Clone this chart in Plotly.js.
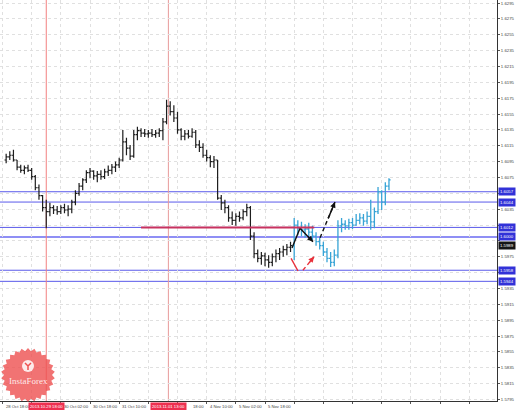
<!DOCTYPE html>
<html>
<head>
<meta charset="utf-8">
<script src="https://cdn.plot.ly/plotly-3.0.1.min.js"></script>
<style>html,body{margin:0;padding:0;background:#fff;}#chart{width:519px;height:410px;}</style>
</head>
<body>
<div id="chart"></div>
<script>
// ---- Data (H2 bars, x = hours since 28 Oct 18:00) ----
const blackOpen = [1.6097,1.6101,1.6103,1.6097,1.6088,1.6084,1.6087,1.6084,1.6076,1.6062,
1.6052,1.6037,1.6032,1.6037,1.6034,1.6032,1.6037,1.6034,1.6035,1.6044,
1.6055,1.6064,1.6072,1.6081,1.6083,1.6077,1.6079,1.6076,1.6082,1.6084,
1.6088,1.6091,1.6097,1.6120,1.6112,1.6102,1.6129,1.6134,1.6131,1.6130,
1.6131,1.6129,1.6131,1.6134,1.6145,1.6165,1.6158,1.6150,1.6135,1.6127,
1.6130,1.6127,1.6132,1.6116,1.6113,1.6103,1.6100,1.6095,1.6097,1.6049,
1.6043,1.6037,1.6024,1.6021,1.6026,1.6024,1.6032,1.6037,1.6001,1.5979,
1.5973,1.5976,1.5971,1.5968,1.5975,1.5979,1.5981,1.5984,1.5987];
const blackHigh = [1.6105,1.6108,1.6110,1.6097,1.6091,1.6090,1.6091,1.6087,1.6078,1.6066,
1.6053,1.6047,1.6043,1.6040,1.6039,1.6040,1.6042,1.6040,1.6047,1.6059,
1.6068,1.6074,1.6084,1.6087,1.6084,1.6083,1.6084,1.6086,1.6090,1.6092,
1.6095,1.6100,1.6135,1.6125,1.6116,1.6135,1.6139,1.6137,1.6136,1.6135,
1.6136,1.6135,1.6137,1.6150,1.6173,1.6171,1.6166,1.6158,1.6137,1.6135,
1.6135,1.6137,1.6135,1.6122,1.6118,1.6110,1.6103,1.6102,1.6097,1.6053,
1.6047,1.6040,1.6032,1.6030,1.6032,1.6035,1.6042,1.6039,1.6006,1.5984,
1.5981,1.5980,1.5977,1.5979,1.5984,1.5986,1.5989,1.5991,1.5994];
const blackLow = [1.6093,1.6097,1.6095,1.6084,1.6081,1.6079,1.6082,1.6072,1.6059,1.6047,
1.6032,1.6011,1.6026,1.6029,1.6028,1.6029,1.6030,1.6026,1.6030,1.6040,
1.6052,1.6059,1.6068,1.6074,1.6072,1.6069,1.6072,1.6073,1.6077,1.6079,
1.6082,1.6087,1.6095,1.6103,1.6097,1.6100,1.6122,1.6126,1.6126,1.6125,
1.6126,1.6125,1.6126,1.6122,1.6142,1.6153,1.6145,1.6130,1.6122,1.6122,
1.6124,1.6125,1.6112,1.6107,1.6100,1.6095,1.6088,1.6087,1.6047,1.6034,
1.6030,1.6019,1.6015,1.6014,1.6019,1.6021,1.6026,1.5996,1.5973,1.5968,
1.5965,1.5963,1.5961,1.5963,1.5968,1.5971,1.5975,1.5977,1.5981];
const blackClose = [1.6101,1.6103,1.6097,1.6088,1.6084,1.6087,1.6084,1.6076,1.6062,1.6052,
1.6037,1.6032,1.6037,1.6034,1.6032,1.6037,1.6034,1.6035,1.6044,1.6055,
1.6064,1.6072,1.6081,1.6083,1.6077,1.6079,1.6076,1.6082,1.6084,1.6088,
1.6091,1.6097,1.6120,1.6112,1.6102,1.6129,1.6134,1.6131,1.6130,1.6131,
1.6129,1.6131,1.6134,1.6145,1.6165,1.6158,1.6150,1.6135,1.6127,1.6130,
1.6127,1.6132,1.6116,1.6113,1.6103,1.6100,1.6095,1.6097,1.6049,1.6043,
1.6037,1.6024,1.6021,1.6026,1.6024,1.6032,1.6037,1.6001,1.5979,1.5973,
1.5976,1.5971,1.5968,1.5975,1.5979,1.5981,1.5984,1.5987,1.5989];

const fcOpen = [1.5989,1.6015,1.6011,1.6009,1.6010,1.6006,1.6001,1.5994,1.5989,1.5981,
1.5973,1.5968,1.5977,1.6014,1.6016,1.6014,1.6018,1.6015,1.6021,1.6024,
1.6020,1.6026,1.6019,1.6032,1.6057,1.6044,1.6064];
const fcHigh = [1.6024,1.6021,1.6019,1.6016,1.6018,1.6014,1.6006,1.5999,1.5994,1.5986,
1.5981,1.5984,1.6021,1.6024,1.6021,1.6023,1.6024,1.6029,1.6030,1.6029,
1.6032,1.6047,1.6037,1.6063,1.6059,1.6069,1.6074];
const fcLow = [1.5971,1.6002,1.6001,1.5999,1.6001,1.5996,1.5989,1.5984,1.5976,1.5968,
1.5962,1.5963,1.5973,1.6006,1.6009,1.6009,1.6010,1.6014,1.6016,1.6014,
1.6016,1.6009,1.6011,1.6029,1.6034,1.6040,1.6059];
const fcClose = [1.6015,1.6011,1.6009,1.6010,1.6006,1.6001,1.5994,1.5989,1.5981,1.5973,
1.5968,1.5977,1.6014,1.6016,1.6014,1.6018,1.6015,1.6021,1.6024,1.6020,
1.6026,1.6019,1.6032,1.6057,1.6044,1.6064,1.6072];

const barStepHours = 2;
const blackHours = blackOpen.map((_, i) => barStepHours * (i + 1));
const fcHours = fcOpen.map((_, i) => barStepHours * (blackOpen.length + 1 + i));

const levelPrices = [1.6057, 1.6044, 1.6012, 1.6000, 1.5958, 1.5944];
const trendHours = [76, 171];
const trendPrice = 1.6012;
const vlineHours = [24, 91];
const vlineLabels = ['2013.10.29 18:00', '2013.11.01 13:00'];

// labels as visible in the picture (parts hidden by the red line boxes are omitted)
const xLabelHours = [0, 32, 48, 64, 96, 112, 128, 144];
const xLabelText = ['28 Oct 18:00','30 Oct 02:00','30 Oct 18:00','31 Oct 10:00',
                    '18:00','4 Nov 10:00','5 Nov 02:00','5 Nov 18:00'];
const xLabelNudge = [1, 1, 1, 1, 13, 1, 1, 1];
const gridHours = [0,16,32,48,64,80,96,112,128,144,160,176,192,208,224,240,256,272];

const yTickVals = [1.5795,1.5815,1.5835,1.5855,1.5875,1.5895,1.5915,1.5935,1.5955,1.5975,1.5995,
  1.6015,1.6035,1.6055,1.6075,1.6095,1.6115,1.6135,1.6155,1.6175,1.6195,1.6215,1.6235,1.6255,1.6275,1.6295];
const yTickText = ['1.5795','1.5815','1.5835','1.5855','1.5875','1.5895','1.5915','1.5935','','1.5975','',
  '','1.6035','','1.6075','1.6095','1.6115','1.6135','1.6155','1.6175','1.6195','1.6215','1.6235','1.6255','1.6275','1.6295'];

const blackArrowHours = [158.8, 163.2, 170.3];
const blackArrowPrices = [1.5986, 1.6011, 1.5994];
const blackDashHours = [174.2, 182.4];
const blackDashPrices = [1.5999, 1.6044];
const redArrowHours = [158.3, 162.1];
const redArrowPrices = [1.5973, 1.5957];
const redDashHours = [164.8, 170.9];
const redDashPrices = [1.5958, 1.5975];

// ---- Traces ----
const traces = [
  {type:'ohlc', x:blackHours, open:blackOpen, high:blackHigh, low:blackLow, close:blackClose,
   increasing:{line:{color:'#1e1e1e', width:1.2}}, decreasing:{line:{color:'#1e1e1e', width:1.2}},
   tickwidth:0.45, hoverinfo:'skip', showlegend:false},
  {type:'ohlc', x:fcHours, open:fcOpen, high:fcHigh, low:fcLow, close:fcClose,
   increasing:{line:{color:'#38a4d6', width:1.3}}, decreasing:{line:{color:'#38a4d6', width:1.3}},
   tickwidth:0.45, hoverinfo:'skip', showlegend:false},
  {type:'scatter', mode:'lines', x:blackArrowHours, y:blackArrowPrices, line:{color:'#111', width:1.4}, hoverinfo:'skip', showlegend:false},
  {type:'scatter', mode:'lines', x:blackDashHours, y:blackDashPrices, line:{color:'#111', width:1.4, dash:'4px,3px'}, hoverinfo:'skip', showlegend:false},
  {type:'scatter', mode:'lines', x:redArrowHours, y:redArrowPrices, line:{color:'#e8303a', width:1.4}, hoverinfo:'skip', showlegend:false},
  {type:'scatter', mode:'lines', x:redDashHours, y:redDashPrices, line:{color:'#e8303a', width:1.4, dash:'4px,3px'}, hoverinfo:'skip', showlegend:false}
];

// ---- Layout helpers ----
const W = 519, H = 410, M = {l:0, r:22, t:0, b:9};
const PW = W - M.l - M.r, PH = H - M.t - M.b;
const px2paperX = px => px / PW;
const py2paperY = py => (PH - py) / PH;

const shapes = [];
levelPrices.forEach(v => shapes.push({type:'line', xref:'paper', x0:0, x1:1, yref:'y', y0:v, y1:v,
  line:{color: v === 1.6000 ? '#8f8ff5' : '#5a5aea', width: v === 1.6000 ? 2 : 1}, layer:'below'}));
shapes.push({type:'line', xref:'x', yref:'y', x0:trendHours[0], x1:trendHours[1], y0:trendPrice, y1:trendPrice,
  line:{color:'#c8325f', width:2}, layer:'above'});
vlineHours.forEach((h, i) => shapes.push({type:'line', xref:'x', yref:'paper', x0:h, x1:h, y0:0, y1:1,
  line:{color: i === 0 ? '#f28080' : '#e89a9a', width:1}, layer:'below'}));

// InstaForex watermark (starburst)
(function(){
  const cx = 28, cy = 375, rO = 27, rI = 24, n = 26;
  let d = '';
  for (let i = 0; i < 2*n; i++) {
    const r = i % 2 === 0 ? rO : rI;
    const a = Math.PI * i / n - Math.PI/2;
    const x = px2paperX(cx + r*Math.cos(a)), y = py2paperY(cy + r*Math.sin(a));
    d += (i === 0 ? 'M' : 'L') + x.toFixed(5) + ',' + y.toFixed(5);
  }
  d += 'Z';
  shapes.push({type:'path', xref:'paper', yref:'paper', path:d, fillcolor:'rgba(238,80,80,0.8)', line:{width:0}, layer:'above'});
  shapes.push({type:'circle', xref:'paper', yref:'paper', x0:px2paperX(22), x1:px2paperX(34),
    y0:py2paperY(372), y1:py2paperY(360), fillcolor:'rgba(255,255,255,0.85)', line:{width:0}, layer:'above'});
  shapes.push({type:'path', xref:'paper', yref:'paper',
    path:'M'+px2paperX(25)+','+py2paperY(363)+'L'+px2paperX(28)+','+py2paperY(366)+'L'+px2paperX(31)+','+py2paperY(363)+
         'M'+px2paperX(28)+','+py2paperY(366)+'L'+px2paperX(28)+','+py2paperY(370),
    line:{color:'rgba(238,80,80,1)', width:1.5}, layer:'above'});
})();

const axisFont = {family:'Liberation Sans', size:4.3, color:'#444'};
const annotations = [];
xLabelHours.forEach((h, i) => annotations.push({xref:'x', yref:'paper', x:h, y:0, yshift:-5, xshift:xLabelNudge[i], xanchor:'left', yanchor:'middle',
  text:xLabelText[i], showarrow:false, font:{family:'Liberation Sans', size:4.2, color:'#444'}}));
vlineHours.forEach((h, i) => annotations.push({xref:'x', yref:'paper', x:h, y:0, yshift:-5, xanchor:'center', yanchor:'middle',
  text:vlineLabels[i], showarrow:false, bgcolor:'#ee3050', borderpad:1, font:{family:'Liberation Sans', size:4.2, color:'#fff'}}));
levelPrices.forEach(v => annotations.push({xref:'paper', yref:'y', x:1, y:v, xshift:1, xanchor:'left', yanchor:'middle',
  text:v.toFixed(4), showarrow:false, bgcolor:'#3232d8', borderpad:1, font:{family:'Liberation Sans', size:4.3, color:'#fff'}}));
const lastPrice = blackClose[blackClose.length - 1];
annotations.push({xref:'paper', yref:'y', x:1, y:lastPrice, xshift:1, xanchor:'left', yanchor:'middle',
  text:lastPrice.toFixed(4), showarrow:false, bgcolor:'#151515', borderpad:1, font:{family:'Liberation Sans', size:4.3, color:'#fff'}});
// arrowheads
function head(xs, ys, color) {
  const n = xs.length;
  const t = 0.5;
  annotations.push({xref:'x', yref:'y', axref:'x', ayref:'y', x:xs[n-1], y:ys[n-1],
    ax: xs[n-1] - (xs[n-1]-xs[n-2])*t, ay: ys[n-1] - (ys[n-1]-ys[n-2])*t,
    text:'', showarrow:true, arrowhead:2, arrowsize:0.8, arrowwidth:1.4, arrowcolor:color, standoff:0});
}
head(blackArrowHours, blackArrowPrices, '#111');
head(blackDashHours, blackDashPrices, '#111');
head(redDashHours, redDashPrices, '#e8303a');
annotations.push({xref:'paper', yref:'paper', x:px2paperX(28), y:py2paperY(381), xanchor:'center', yanchor:'middle',
  text:'InstaForex', showarrow:false, font:{family:'Liberation Serif', size:9, color:'rgba(255,240,240,0.97)'}});

const layout = {
  width:W, height:H, margin:M, paper_bgcolor:'#fff', plot_bgcolor:'#fff', showlegend:false,
  xaxis:{range:[-1.371, 271.26], tickmode:'array', tickvals:gridHours, showticklabels:false,
    showgrid:true, gridcolor:'#e0e0e0', griddash:'dot', gridwidth:1, zeroline:false,
    showline:true, linecolor:'#333', linewidth:1, ticks:'outside', ticklen:2, tickcolor:'#555',
    rangeslider:{visible:false}, fixedrange:true},
  yaxis:{range:[1.57931, 1.62988], side:'right', tickmode:'array', tickvals:yTickVals, ticktext:yTickText,
    showgrid:true, gridcolor:'#e0e0e0', griddash:'dot', gridwidth:1, zeroline:false,
    showline:true, linecolor:'#333', linewidth:1, ticks:'outside', ticklen:2, tickcolor:'#555',
    tickfont:axisFont, automargin:false, fixedrange:true},
  shapes:shapes, annotations:annotations
};

Plotly.newPlot('chart', traces, layout, {staticPlot:true, displayModeBar:false});
</script>
</body>
</html>
